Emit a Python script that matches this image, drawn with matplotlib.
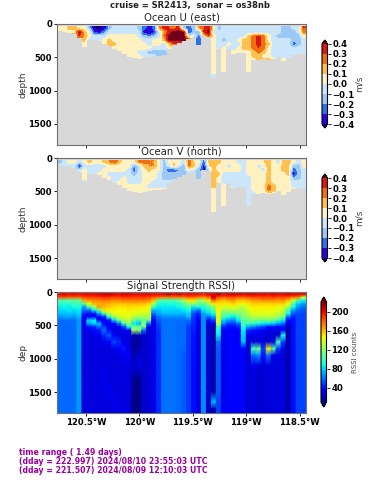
import numpy as np
import matplotlib
matplotlib.use("Agg")
import matplotlib.pyplot as plt
from matplotlib.colors import ListedColormap, BoundaryNorm, Normalize

n = np.nan

# longitude grid, 50 columns along the track
lon_edges = np.linspace(-120.77, -118.44, 51)

# seafloor depth per column, m
bottom = [100, 115, 130, 150, 210, 340, 240, 240, 260, 300, 335, 370, 410, 450, 490, 515, 525, 510, 490, 485, 480, 470, 370, 320, 280,
          255, 230, 215, 320, 180, 200, 825, 375, 720, 375, 450, 430, 440, 720, 540, 540, 530, 540, 520, 500, 560, 510, 470, 450, 450]

vel_depth = [30, 90, 150, 210, 270, 330, 390, 450, 510, 570, 630, 690, 750, 810]

# ocean U, cm/s, one row per depth bin
u_rows = [
    [5, 5, 15, 15, 5, 5, -15, -40, -45, -35, -15, -5, -5, -5, -5, -5, -15, -25, -35, -25, 20, 35, 30, 25, 35,
     -15, -25, -15, 20, 30, 40, 5, -15, -5, -5, -5, -5, -5, -5, -5, -5, -5, -5, -5, -5, -15, -15, -5, -5, 30],
    [5, 5, 5, 5, 45, 15, 5, -30, -35, -20, -5, -5, -5, -5, -5, -5, -5, -35, -40, -30, -5, 20, 35, 45, 45,
     45, -30, -15, -15, 35, 45, -5, -5, -5, -5, -5, -5, -5, -5, -5, -5, -5, -5, -5, -5, -15, -15, -15, -5, 25],
    [n, n, n, n, 30, 20, 5, -5, -5, -5, 5, 5, 5, 5, 5, 5, -5, -15, -20, -15, -5, 25, 45, 45, 45,
     45, -5, 5, -25, 15, 30, 5, -5, -5, -5, -5, -5, -5, 15, 25, 35, 25, 5, -5, -15, -15, -15, -15, -15, 5],
    [n, n, n, n, n, 15, -5, -5, -5, 5, 15, 5, 5, 5, 5, 5, 5, -5, -5, 5, 5, 15, 45, 45, 45,
     45, n, n, -30, n, n, 5, -5, -15, -5, -5, 5, 15, 15, 25, 35, 25, 5, -5, -5, -5, -5, -15, -15, -5],
    [n, n, n, n, n, 5, n, n, n, 5, 15, 15, 5, 5, 5, 5, 5, 5, -5, 5, 5, -5, 15, 30, n,
     n, n, n, -30, n, n, 5, -5, -5, 5, -5, -5, 15, 15, 25, 35, 25, 15, -5, -5, -5, -5, -25, -15, -5],
    [n, n, n, n, n, n, n, n, n, n, n, 5, 5, 5, 5, 5, 5, 5, 5, -5, -5, -5, 5, n, n,
     n, n, n, n, n, n, 5, -5, 5, -5, -5, 5, 15, 15, 25, 30, 25, 5, -5, -5, -5, -5, -5, -5, -5],
    [n, n, n, n, n, n, n, n, n, n, n, n, n, 5, 5, 5, -5, -5, -15, -15, -15, -15, n, n, n,
     n, n, n, n, n, n, 5, n, 5, n, 5, 5, 5, 5, 15, 25, 15, 5, -5, -5, -5, -5, -5, -5, -5],
    [n, n, n, n, n, n, n, n, n, n, n, n, n, n, 5, 5, 5, -5, -5, -5, -15, n, n, n, n,
     n, n, n, n, n, n, 5, n, 5, n, n, n, n, 5, 15, 15, 5, 5, -5, -5, -5, -5, n, n, n],
    [n] * 31 + [5, n, 5, n, n, n, n, 5, n, 15, n, n, n, n, 5, n, n, n, n],
    [n] * 31 + [5, n, 5, n, n, n, n, 5, n, n, n, n, n, n, n, n, n, n, n],
    [n] * 31 + [5, n, 5, n, n, n, n, 5, n, n, n, n, n, n, n, n, n, n, n],
    [n] * 31 + [5, n, 5, n, n, n, n, 5, n, n, n, n, n, n, n, n, n, n, n],
    [n] * 31 + [-5, n, n, n, n, n, n, n, n, n, n, n, n, n, n, n, n, n, n],
]

# ocean V, cm/s
v_rows = [
    [-15, -5, 5, 5, -5, 5, 15, 5, 5, 15, 20, 30, 15, 5, 5, 5, 25, 25, 20, 20, 5, -15, 5, 10, 5,
     -5, 25, 10, 5, -25, 15, 20, 15, 5, 5, 5, -5, -5, 5, 5, 5, 10, 15, 5, -5, 15, 15, 5, -5, 5],
    [5, 5, -5, -5, -30, -5, -5, -5, -5, -5, 5, 5, 5, 5, 5, -20, -5, 15, 20, 20, 5, -15, -5, 15, -5,
     -15, 25, 15, -5, -35, 10, 15, 5, 5, -5, 5, 5, -5, 5, 5, -5, 5, 15, 5, 5, 15, 15, -15, -15, 5],
    [n, n, n, n, -5, 5, -5, -5, -5, 5, 5, 5, 5, 5, -5, -25, -5, 5, 15, 5, 5, -15, -25, -25, -20,
     -15, 5, -5, -15, -35, -5, 15, 5, 5, 5, 5, 5, -5, 5, 5, 5, -5, 15, 5, 5, 15, 15, -25, -15, -5],
    [n, n, n, n, n, 5, -5, -5, 5, 5, -5, -5, -5, -5, -5, -15, -5, 5, 5, 5, -5, -15, -15, -15, -15,
     -15, n, n, -15, n, n, 15, 15, -5, -5, -5, -5, -5, 5, 5, 5, 5, 15, 5, 5, 5, 15, -35, -15, -5],
    [n, n, n, n, n, 5, n, n, n, 5, 5, -5, -5, 5, -5, -5, -5, 5, 5, 5, -5, -15, -15, -15, n,
     n, n, n, -15, n, n, 15, 5, -5, -5, -5, -5, -5, -5, 5, 5, 5, 15, 5, 5, 5, 5, -15, -15, -5],
    [n] * 11 + [-5, 5, 5, -5, -5, -5, 5, 5, -5, -5, -5, -5, n, n] +
    [n] * 6 + [15, 5, -5, -5, -5, -5, -5, -5, 5, 5, 5, 15, 5, 5, 5, 5, -5, -5, -5],
    [n] * 13 + [5, 5, 5, 5, 5, -5, -5, -5, -5, n, n, n] +
    [n] * 6 + [15, n, 5, n, -5, -5, -5, -5, 5, 5, 5, 25, 15, 5, 5, 5, -5, -5, -5],
    [n] * 14 + [5, 5, 5, 5, 5, 5, 5, n, n, n, n] +
    [n] * 6 + [5, n, 5, n, n, n, n, -5, 5, 5, 5, 25, 15, 5, 5, 5, n, n, n],
    [n] * 31 + [5, n, 5, n, n, n, n, -5, n, 5, n, n, n, n, 5, n, n, n, n],
    [n] * 31 + [5, n, 5, n, n, n, n, -5, n, n, n, n, n, n, n, n, n, n, n],
    [n] * 31 + [5, n, 5, n, n, n, n, -5, n, n, n, n, n, n, n, n, n, n, n],
    [n] * 31 + [5, n, 5, n, n, n, n, -5, n, n, n, n, n, n, n, n, n, n, n],
    [n] * 31 + [5, n, n, n, n, n, n, n, n, n, n, n, n, n, n, n, n, n, n],
]

rssi_depth = [25, 60, 100, 150, 200, 250, 300, 350, 400, 450, 500, 550, 600, 700, 800, 900, 1000, 1200, 1400, 1600, 1700, 1810]

# RSSI counts, one list per column, surface to bottom
rssi_cols = [
    [198, 185, 105, 95, 85, 82, 75, 68, 60, 58, 58, 58, 58, 58, 58, 58, 58, 58, 58, 58, 58],
    [202, 185, 105, 95, 88, 82, 75, 70, 60, 58, 58, 58, 58, 58, 58, 58, 58, 58, 58, 58, 58],
    [198, 182, 110, 95, 85, 85, 78, 70, 60, 58, 58, 58, 58, 58, 58, 58, 58, 58, 58, 58, 58],
    [200, 180, 105, 100, 90, 82, 75, 68, 60, 58, 58, 58, 58, 58, 58, 58, 58, 58, 58, 58, 58],
    [198, 180, 110, 100, 90, 85, 80, 75, 68, 68, 68, 68, 68, 68, 68, 68, 68, 68, 68, 68, 68],
    [200, 185, 165, 110, 70, 60, 45, 35, 30, 30, 28, 28, 28, 28, 28, 28, 28, 28, 28, 28, 28],
    [200, 188, 170, 145, 105, 60, 38, 30, 80, 70, 40, 32, 28, 28, 28, 28, 28, 28, 28, 28, 28],
    [200, 188, 172, 160, 125, 85, 40, 35, 85, 80, 45, 38, 30, 28, 28, 28, 28, 28, 28, 28, 28],
    [202, 190, 172, 162, 165, 110, 70, 35, 35, 75, 60, 40, 32, 28, 28, 28, 28, 28, 28, 28, 28],
    [205, 192, 175, 165, 160, 150, 100, 45, 32, 35, 50, 60, 45, 30, 28, 28, 28, 32, 28, 28, 28],
    [205, 190, 175, 162, 155, 148, 130, 95, 40, 32, 32, 40, 55, 32, 28, 28, 28, 28, 32, 28, 28],
    [202, 188, 172, 160, 152, 148, 140, 120, 80, 35, 30, 30, 35, 50, 30, 28, 28, 28, 28, 32, 28],
    [200, 188, 172, 158, 150, 145, 145, 135, 110, 60, 30, 28, 28, 45, 35, 28, 28, 28, 28, 28, 30],
    [202, 190, 175, 158, 150, 145, 145, 140, 125, 100, 50, 30, 28, 30, 40, 30, 28, 28, 28, 28, 28],
    [202, 190, 175, 160, 152, 148, 145, 140, 135, 120, 90, 35, 28, 28, 30, 35, 28, 28, 28, 28, 28],
    [200, 188, 175, 160, 152, 145, 140, 130, 110, 85, 110, 125, 22, 15, 15, 18, 25, 15, 12, 12, 12],
    [200, 188, 175, 160, 152, 145, 138, 125, 100, 75, 110, 120, 20, 15, 18, 25, 30, 12, 12, 12, 12],
    [200, 190, 175, 160, 150, 145, 135, 125, 110, 115, 110, 60, 25, 25, 25, 25, 25, 25, 25, 25, 25],
    [200, 188, 172, 155, 145, 140, 135, 125, 115, 60, 30, 25, 25, 25, 25, 25, 25, 25, 25, 25, 25],
    [198, 182, 160, 130, 100, 75, 60, 45, 35, 30, 30, 30, 30, 30, 30, 30, 30, 30, 30, 30, 30],
    [198, 178, 110, 90, 85, 75, 70, 60, 55, 50, 48, 45, 45, 45, 45, 45, 45, 45, 45, 45, 45],
    [200, 175, 105, 90, 85, 80, 75, 65, 60, 60, 60, 60, 60, 60, 60, 60, 60, 60, 60, 60, 60],
    [208, 175, 105, 92, 85, 80, 75, 65, 60, 60, 60, 60, 60, 60, 60, 60, 60, 60, 60, 60, 60],
    [200, 175, 105, 90, 85, 80, 75, 65, 60, 60, 60, 60, 60, 60, 60, 60, 60, 60, 60, 60, 60],
    [205, 175, 110, 95, 88, 80, 75, 65, 60, 58, 58, 58, 58, 58, 58, 58, 58, 58, 58, 58, 58],
    [198, 175, 125, 105, 95, 85, 75, 65, 60, 58, 58, 58, 58, 58, 58, 55, 55, 55, 55, 55, 55],
    [200, 180, 150, 120, 105, 90, 80, 75, 60, 55, 48, 48, 48, 48, 48, 48, 48, 48, 48, 48, 48],
    [198, 180, 150, 125, 85, 70, 50, 48, 45, 45, 42, 42, 40, 40, 40, 38, 38, 38, 38, 38, 38],
    [198, 175, 125, 110, 95, 60, 45, 38, 35, 32, 30, 30, 28, 28, 28, 28, 28, 28, 28, 28, 28],
    [195, 170, 130, 110, 90, 85, 70, 68, 65, 65, 65, 65, 65, 65, 65, 65, 65, 65, 65, 65, 65],
    [200, 180, 150, 125, 105, 90, 80, 60, 40, 30, 25, 25, 25, 25, 25, 25, 25, 25, 25, 25, 25],
    [200, 205, 180, 150, 120, 110, 90, 70, 50, 30, 20, 18, 18, 18, 18, 18, 18, 18, 18, 75, 18],
    [210, 185, 165, 150, 148, 145, 145, 145, 140, 135, 100, 90, 85, 60, 55, 55, 55, 55, 55, 50, 50],
    [200, 180, 160, 150, 140, 125, 110, 100, 80, 65, 45, 35, 30, 30, 30, 30, 30, 30, 30, 30, 30],
    [202, 185, 165, 150, 140, 125, 110, 90, 70, 50, 40, 35, 35, 35, 35, 35, 35, 35, 35, 35, 35],
    [205, 185, 168, 155, 145, 130, 110, 85, 65, 50, 38, 35, 35, 35, 35, 35, 35, 35, 35, 35, 35],
    [202, 180, 160, 148, 135, 125, 115, 100, 85, 60, 42, 35, 35, 35, 35, 35, 35, 35, 35, 35, 35],
    [200, 180, 158, 145, 130, 125, 120, 115, 110, 100, 90, 85, 80, 75, 35, 35, 35, 35, 35, 35, 35],
    [202, 182, 162, 150, 140, 140, 130, 120, 110, 100, 70, 45, 30, 25, 25, 25, 25, 25, 25, 25, 25],
    [202, 185, 168, 155, 148, 145, 140, 130, 115, 95, 65, 40, 30, 28, 100, 60, 30, 28, 28, 28, 28],
    [200, 185, 168, 155, 148, 145, 140, 130, 115, 90, 55, 38, 28, 28, 110, 65, 28, 25, 25, 25, 25],
    [200, 188, 172, 155, 148, 145, 140, 130, 110, 85, 50, 35, 28, 28, 50, 40, 28, 25, 25, 25, 25],
    [200, 185, 172, 155, 148, 145, 140, 132, 115, 85, 40, 30, 25, 25, 150, 60, 28, 28, 28, 28, 28],
    [202, 188, 172, 155, 148, 145, 138, 130, 110, 80, 40, 28, 25, 30, 105, 30, 28, 28, 28, 28, 28],
    [200, 185, 168, 155, 145, 140, 135, 120, 100, 70, 35, 28, 25, 100, 50, 28, 28, 28, 28, 28, 28],
    [200, 185, 172, 155, 140, 135, 125, 115, 85, 60, 40, 35, 90, 50, 30, 28, 28, 28, 28, 28, 28],
    [202, 185, 160, 145, 130, 100, 90, 60, 38, 28, 22, 18, 18, 18, 18, 18, 18, 18, 18, 18, 18],
    [200, 178, 140, 105, 90, 70, 55, 45, 40, 38, 38, 38, 38, 38, 38, 38, 38, 38, 38, 38, 38],
    [200, 172, 105, 80, 68, 58, 52, 50, 50, 50, 50, 50, 50, 50, 50, 50, 50, 50, 50, 50, 50],
    [200, 135, 90, 70, 60, 55, 50, 50, 50, 50, 50, 50, 50, 50, 50, 50, 50, 50, 50, 50, 50],
]

vel_colors = ["#2a00e0", "#2f6fe8", "#9cc8f5", "#cbe5fa", "#fff2c0", "#ffc050", "#f07010", "#d81818"]
vel_levels = [-0.4, -0.3, -0.2, -0.1, 0, 0.1, 0.2, 0.3, 0.4]

xticks = [-120.5, -120, -119.5, -119, -118.5]
xlabels = ["120.5°W", "120°W", "119.5°W", "119°W", "118.5°W"]
yticks = [0, 500, 1000, 1500]
info_lines = ["time range ( 1.49 days)",
              "(dday = 222.997) 2024/08/10 23:55:03 UTC",
              "(dday = 221.507) 2024/08/09 12:10:03 UTC"]

W, H = 379.0, 480.0
GRAY = "#d8d8d8"
plt.rcParams["font.weight"] = "bold"
plt.rcParams["axes.titleweight"] = "normal"
plt.rcParams["axes.labelweight"] = "normal"

fig = plt.figure(figsize=(3.79, 4.8), dpi=100)

vel_cmap = ListedColormap(vel_colors)
vel_cmap.set_over("#70001c")
vel_cmap.set_under("#14007c")
vel_norm = BoundaryNorm(vel_levels, vel_cmap.N, extend="neither")

centers = 0.5 * (np.array(vel_depth[:-1]) + np.array(vel_depth[1:]))
sea = np.array(bottom)


def fill_sideways(vals):
    # cells under the seafloor take the nearest good value, the gray floor covers them
    out = vals.copy()
    idx = np.arange(vals.shape[1])
    for j in range(vals.shape[0]):
        good = idx[~np.isnan(vals[j])]
        out[j] = vals[j][good[np.abs(idx[:, None] - good).argmin(axis=1)]]
    return out


def style_axes(ax, title, ylabel):
    ax.set_xlim(lon_edges[0], lon_edges[-1])
    ax.set_ylim(1815, 0)
    ax.set_xticks(xticks)
    ax.set_yticks(yticks)
    ax.tick_params(labelsize=6.1, length=2, width=0.6, pad=1.5)
    ax.set_ylabel(ylabel, fontsize=6.5, color="#333333", labelpad=1)
    ax.set_title(title, fontsize=7.3, pad=2.5, color="#222222")
    for s in ax.spines.values():
        s.set_color("#707070")
        s.set_linewidth(0.8)


def velocity_panel(rows, top_px, title, cbar_top):
    ax = fig.add_axes([57 / W, 1 - (top_px + 121) / H, 249 / W, 121 / H])
    vals = np.array(rows, dtype=float) / 100.0
    vals[centers[:, None] > sea[None, :]] = np.nan
    ax.set_facecolor(GRAY)
    im = ax.imshow(fill_sideways(vals), cmap=vel_cmap, norm=vel_norm, aspect="auto",
                   extent=[lon_edges[0], lon_edges[-1], vel_depth[-1], vel_depth[0]],
                   interpolation="bilinear", interpolation_stage="data")
    ax.fill_between(lon_edges, bottom + [bottom[-1]], 2000, step="post", color=GRAY, lw=0)
    style_axes(ax, title, "depth")
    ax.set_xticklabels([])
    cax = fig.add_axes([322 / W, 1 - (cbar_top + 88) / H, 5.5 / W, 88 / H])
    cb = fig.colorbar(im, cax=cax, extend="both", ticks=vel_levels, extendfrac=0.05)
    cb.ax.tick_params(labelsize=6.1, length=2, width=0.6, pad=1.5)
    cb.set_label("m/s", fontsize=6.5, color="#444444", labelpad=0)
    return ax


velocity_panel(u_rows, 24, "Ocean U (east)", 40)
velocity_panel(v_rows, 158, "Ocean V (north)", 174)

ax3 = fig.add_axes([57 / W, 1 - (292 + 121) / H, 249 / W, 121 / H])
rssi = np.array(rssi_cols, dtype=float).T
dep_mid = 0.5 * (np.array(rssi_depth[:-1]) + np.array(rssi_depth[1:]))
# each column gets two vertices so it stays sharp sideways and only blends with depth
x3 = np.repeat(lon_edges, 2)[1:-1]
y3 = np.r_[rssi_depth[0], dep_mid, rssi_depth[-1]]
z3 = np.repeat(np.pad(rssi, ((1, 1), (0, 0)), mode="edge"), 2, axis=1)
jet = plt.get_cmap("jet").copy()
jet.set_over("#800000")
jet.set_under("#00007f")
mesh3 = ax3.pcolormesh(x3, y3, z3, cmap=jet, norm=Normalize(10, 220), shading="gouraud")
style_axes(ax3, "Signal Strength RSSI)", "dep")
ax3.set_xticklabels(xlabels)

cax3 = fig.add_axes([321 / W, 1 - 407 / H, 5.5 / W, 110 / H])
cb3 = fig.colorbar(mesh3, cax=cax3, extend="both", ticks=[40, 80, 120, 160, 200], extendfrac=0.05)
cb3.ax.tick_params(labelsize=6.1, length=2, width=0.6, pad=1.5)
cb3.set_label("RSSI counts", fontsize=5, color="#444444", labelpad=2)

fig.text(190 / W, 1 - 5.5 / H, "cruise = SR2413,  sonar = os38nb", fontsize=6.0, ha="center", va="center", weight="bold", color="#222222")
for y_px, line in zip([452.5, 461.5, 470.5], info_lines):
    fig.text(19 / W, 1 - y_px / H, line, fontsize=5.6, ha="left", va="center", weight="bold", color="#990099")

fig.savefig("out.png", dpi=100)
